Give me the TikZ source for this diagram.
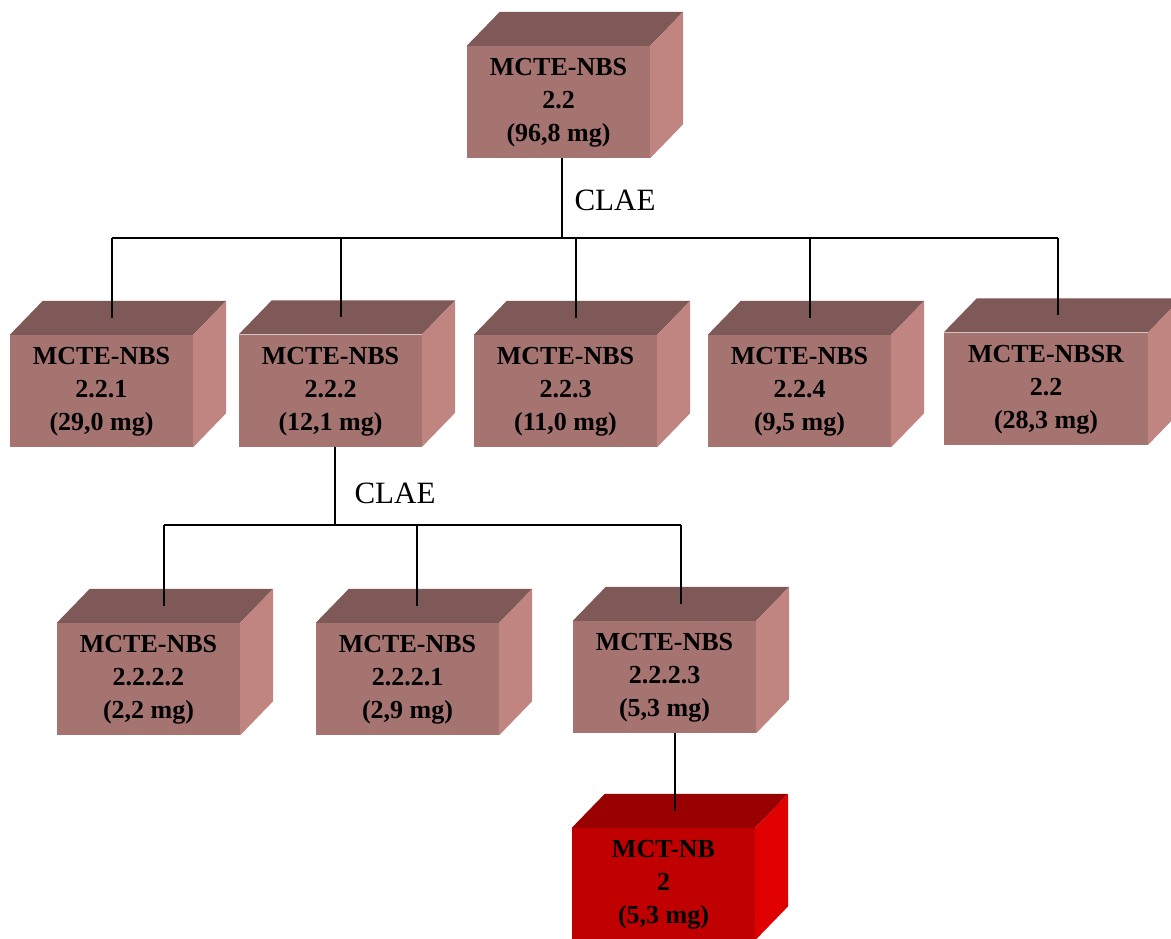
\documentclass[tikz,border=0pt]{standalone}
\usepackage{fontspec}
\setmainfont{Liberation Serif}
\usetikzlibrary{calc}

\definecolor{boxfront}{HTML}{A57370}
\definecolor{boxtop}{HTML}{7F5957}
\definecolor{boxside}{HTML}{C08481}
\definecolor{hotfront}{HTML}{C00000}
\definecolor{hottop}{HTML}{990000}
\definecolor{hotside}{HTML}{E00000}

\tikzset{
  cube/.style={minimum width=183pt, minimum height=112pt, inner sep=0pt,
    fill=boxfront, align=center,
    font=\fontsize{26}{33}\selectfont\bfseries},
  hotcube/.style={cube, fill=hotfront},
  wire/.style={line width=1.4pt, black},
  method/.style={font=\fontsize{31}{31}\selectfont, inner sep=0pt}
}

% top and right faces of a block whose front face is node #1
\newcommand\blockfaces[3]{%
  \fill[#2] (#1.north west) -- ++(33,-34) -- ($(#1.north east)+(33,-34)$)
            -- (#1.north east) -- cycle;
  \fill[#3] (#1.north east) -- ++(33,-34) -- ($(#1.south east)+(33,-34)$)
            -- (#1.south east) -- cycle;
}
% block labels sit a little below the middle of the front face
\newcommand\blocktext[1]{\raisebox{-3pt}{\begin{tabular}{@{}c@{}}#1\end{tabular}}}

\begin{document}
\begin{tikzpicture}[x=1pt,y=-1pt]
\clip (0,0) rectangle (1171,938);
\fill[white] (0,0) rectangle (1171,938);

% blocks
\node[cube] (top) at (558.5,102) {\blocktext{MCTE-NBS\\2.2\\(96,8 mg)}};
\node[cube] (b1) at (101.5,391) {\blocktext{MCTE-NBS\\2.2.1\\(29,0 mg)}};
\node[cube] (b2) at (330.5,390.5) {\blocktext{MCTE-NBS\\2.2.2\\(12,1 mg)}};
\node[cube] (b3) at (565.5,391) {\blocktext{MCTE-NBS\\2.2.3\\(11,0 mg)}};
\node[cube] (b4) at (799.5,391) {\blocktext{MCTE-NBS\\2.2.4\\(9,5 mg)}};
\node[cube, minimum width=204pt] (b5) at (1046,388.5) {\blocktext{MCTE-NBSR\\2.2\\(28,3 mg)}};
\node[cube] (c2) at (148.5,679) {\blocktext{MCTE-NBS\\2.2.2.2\\(2,2 mg)}};
\node[cube] (c1) at (407.5,679) {\blocktext{MCTE-NBS\\2.2.2.1\\(2,9 mg)}};
\node[cube] (c3) at (664.5,677) {\blocktext{MCTE-NBS\\2.2.2.3\\(5,3 mg)}};
\node[hotcube] (nb) at (663.5,884) {\blocktext{MCT-NB\\2\\(5,3 mg)}};

\foreach \n in {top,b1,b2,b3,b4,b5,c1,c2,c3}{\blockfaces{\n}{boxtop}{boxside}}
\blockfaces{nb}{hottop}{hotside}

% attachment points on the top faces
\coordinate (b1in) at ($(b1.north)+(10.5,-17)$);
\coordinate (b2in) at ($(b2.north)+(10.5,-17)$);
\coordinate (b3in) at ($(b3.north)+(10.5,-17)$);
\coordinate (b4in) at ($(b4.north)+(10.5,-17)$);
\coordinate (b5in) at ($(b5.north)+(12,-17)$);
\coordinate (c2in) at ($(c2.north)+(15.5,-17)$);
\coordinate (c1in) at ($(c1.north)+(9.5,-17)$);
\coordinate (c3in) at ($(c3.north)+(16.5,-17)$);
\coordinate (nbin) at ($(nb.north)+(11.5,-17)$);

% first separation
\coordinate (bus1) at (562,238);
\draw[wire] (bus1 |- top.south) -- (bus1);
\draw[wire] (b1in |- bus1) -- (b5in |- bus1);
\foreach \n in {b1,b2,b3,b4,b5}{\draw[wire] (\n in |- bus1) -- (\n in);}
\node[method] (clae1) at (615,200) {CLAE};

% second separation
\coordinate (bus2) at (335,525);
\draw[wire] (bus2 |- b2.south) -- (bus2);
\draw[wire] (c2in |- bus2) -- (c3in |- bus2);
\foreach \n in {c1,c2,c3}{\draw[wire] (\n in |- bus2) -- (\n in);}
\node[method] (clae2) at (395,493) {CLAE};

% final step
\draw[wire] (nbin |- c3.south) -- (nbin);
\end{tikzpicture}
\end{document}
